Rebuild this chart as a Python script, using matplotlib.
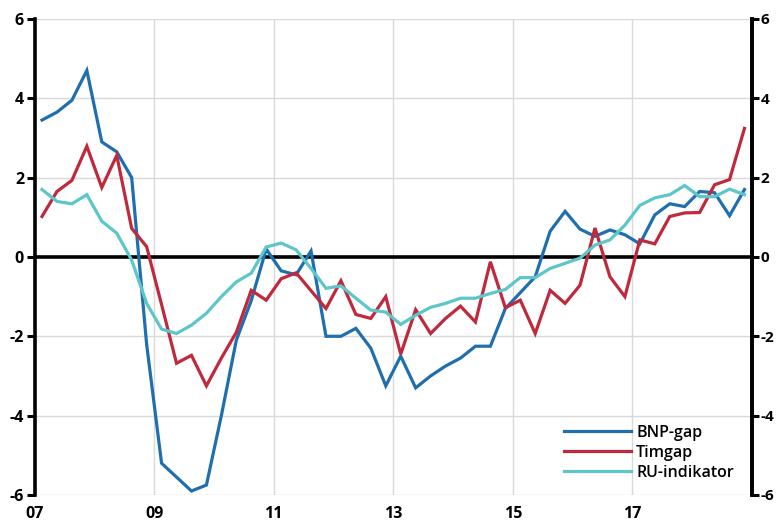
import matplotlib
matplotlib.use("Agg")
import matplotlib.pyplot as plt
import numpy as np

plt.rcParams["axes.unicode_minus"] = False

# Quarterly data 2007Q1 - 2018Q4
start_year = 2007
n_quarters = 48

bnp_gap = [3.45, 3.65, 3.95, 4.7, 2.9, 2.65, 2.0, -2.2,
           -5.2, -5.55, -5.9, -5.75, -4.0, -2.1, -1.1, 0.2,
           -0.35, -0.45, 0.15, -2.0, -2.0, -1.8, -2.3, -3.25,
           -2.5, -3.3, -3.0, -2.75, -2.55, -2.25, -2.25, -1.3,
           -0.9, -0.5, 0.65, 1.15, 0.7, 0.52, 0.68, 0.56,
           0.33, 1.06, 1.34, 1.27, 1.65, 1.62, 1.04, 1.7]

timgap = [1.02, 1.65, 1.93, 2.79, 1.75, 2.56, 0.72, 0.26,
          -1.2, -2.68, -2.48, -3.25, -2.55, -1.9, -0.84, -1.09,
          -0.55, -0.4, -0.85, -1.3, -0.6, -1.45, -1.55, -1.0,
          -2.45, -1.33, -1.93, -1.55, -1.24, -1.64, -0.12, -1.28,
          -1.09, -1.93, -0.84, -1.17, -0.71, 0.73, -0.5, -1.0,
          0.43, 0.33, 1.02, 1.11, 1.12, 1.82, 1.95, 3.24]

ru_indikator = [1.7, 1.4, 1.34, 1.57, 0.9, 0.6, -0.08, -1.17,
                -1.82, -1.93, -1.72, -1.42, -1.0, -0.63, -0.41, 0.25,
                0.35, 0.18, -0.29, -0.79, -0.73, -1.04, -1.34, -1.39,
                -1.7, -1.47, -1.27, -1.17, -1.04, -1.04, -0.92, -0.82,
                -0.52, -0.52, -0.29, -0.16, -0.03, 0.3, 0.43, 0.8,
                1.3, 1.49, 1.57, 1.8, 1.52, 1.52, 1.71, 1.57]

series_names = ["BNP-gap", "Timgap", "RU-indikator"]
series_colors = ["#1f6fae", "#c0283c", "#5cc6c9"]

x_ticks = [2007, 2009, 2011, 2013, 2015, 2017]
x_labels = ["07", "09", "11", "13", "15", "17"]
y_ticks = [-6, -4, -2, 0, 2, 4, 6]

x = start_year + (np.arange(n_quarters) + 0.5) * 0.25

font = "Open Sans"
fig = plt.figure(figsize=(7.76, 5.26), dpi=100)
ax = fig.add_axes([0.0445, 0.059, 0.9245, 0.905])

for vals, name, col in zip([bnp_gap, timgap, ru_indikator], series_names, series_colors):
    ax.plot(x, vals, color=col, lw=2.3, label=name, zorder=3, solid_joinstyle="miter")

ax.axhline(0, color="black", lw=2.6, zorder=2)

ax.set_xlim(2007, 2019)
ax.set_ylim(-6, 6)
ax.set_xticks(x_ticks)
ax.set_xticklabels(x_labels)
ax.set_yticks(y_ticks)
ax.grid(True, color="#d9d9d9", lw=1.0, zorder=0)

for s in ["top", "bottom"]:
    ax.spines[s].set_visible(False)
ax.spines["left"].set_linewidth(2.6)
ax.spines["right"].set_linewidth(2.6)

ax.tick_params(axis="x", length=0, pad=8)
ax.tick_params(axis="y", length=6, width=2.2, direction="out", pad=1.5)

for lab in ax.get_xticklabels() + ax.get_yticklabels():
    lab.set_fontfamily(font)
    lab.set_fontweight("bold")
    lab.set_fontsize(11.5)

ax2 = ax.twinx()
ax2.set_ylim(-6, 6)
ax2.set_yticks(y_ticks)
for s in ["top", "bottom", "left"]:
    ax2.spines[s].set_visible(False)
ax2.spines["right"].set_linewidth(2.6)
ax2.tick_params(axis="y", length=5, width=2.2, direction="out", pad=1)
for lab in ax2.get_yticklabels():
    lab.set_fontfamily(font)
    lab.set_fontweight("bold")
    lab.set_fontsize(11)

leg = ax.legend(loc="lower right", bbox_to_anchor=(0.995, 0.0), frameon=False,
                handlelength=4.2, handletextpad=0.3, labelspacing=0.25,
                prop={"family": font, "size": 11.5, "weight": "semibold"})

fig.savefig("out.png", dpi=100)
